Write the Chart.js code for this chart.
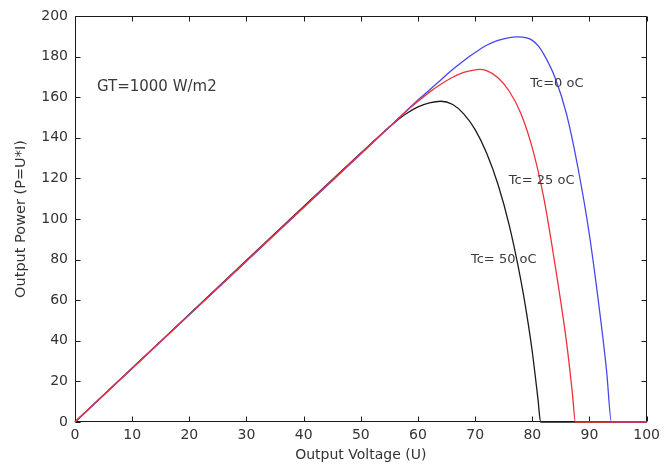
<!DOCTYPE html>
<html>
<head>
<meta charset="utf-8">
<script src="https://cdn.jsdelivr.net/npm/chart.js@4.4.1/dist/chart.umd.min.js"></script>
<style>
  html, body { margin: 0; padding: 0; background: #ffffff; }
  #wrap { width: 665px; height: 466px; }
</style>
</head>
<body>
<div id="wrap"><canvas id="pv"></canvas></div>
<script>
// P-V curves of a PV module at GT = 1000 W/m2 for three cell temperatures.
// Output voltage (U) and output power (P = U*I) sampled along each curve.
const voltage50 = [0, 10, 20, 30, 40, 50, 55, 57, 58, 60, 62, 64, 66, 68, 70, 72, 74, 76, 78, 79, 80, 81, 81.45, 100];
const power50   = [0, 26.6, 53.1, 79.7, 106.2, 132.5, 145.3, 150, 152, 155.2, 157.2, 158, 156.5, 151.8, 144, 132.5, 117, 96.5, 69.8, 53.5, 34.5, 11, 0, 0];

const voltage25 = [0, 10, 20, 30, 40, 50, 55, 58, 60, 62, 64, 66, 68, 70, 70.7, 72, 74, 76, 78, 80, 82, 84, 86, 87, 87.55, 100];
const power25   = [0, 26.5, 52.9, 79.4, 105.8, 132.3, 145.4, 153.2, 158, 162.5, 166.4, 169.7, 172.2, 173.5, 173.7, 173.1, 169.6, 162.8, 152, 135, 110.5, 77, 39, 14.5, 0, 0];

const voltage0  = [0, 10, 20, 30, 40, 50, 55, 60, 62, 64, 66, 68, 70, 72, 74, 76, 77.4, 79, 80, 81, 82, 84, 86, 88, 90, 92, 93, 93.85, 100];
const power0    = [0, 26.4, 52.8, 79.2, 105.6, 132, 145.3, 158.6, 163.5, 168.5, 173.5, 178, 182, 185.6, 188, 189.4, 189.7, 189.2, 188, 185.4, 181.2, 169.5, 151.5, 125, 92, 49.5, 25, 0, 0];

const xTicks = [0, 10, 20, 30, 40, 50, 60, 70, 80, 90, 100];
const yTicks = [0, 20, 40, 60, 80, 100, 120, 140, 160, 180, 200];

// Text placed inside the plot, anchored in data units (left edge, baseline)
const notes = [
  { text: 'GT=1000 W/m2', u: 3.83, p: 163.2, size: 15 },
  { text: 'Tc=0 oC',      u: 79.65, p: 165.2, size: 13 },
  { text: 'Tc= 25 oC',    u: 75.9,  p: 117.2, size: 13 },
  { text: 'Tc= 50 oC',    u: 69.27, p: 78.2,  size: 13 }
];

const FONT = "'DejaVu Sans', sans-serif";

function toPoints(xs, ys) {
  return xs.map((x, i) => ({ x: x, y: ys[i] }));
}

// Boxed frame with inward tick marks on all four sides (under the curves),
// then the notes on top of everything
const framePlugin = {
  id: 'frame',
  beforeDatasetsDraw(chart) {
    const ctx = chart.ctx;
    const a = chart.chartArea;
    const xs = chart.scales.x;
    const ys = chart.scales.y;
    const L = Math.round(a.left) + 0.5;
    const R = Math.round(a.right) - 0.5;
    const T = Math.round(a.top) + 0.5;
    const B = Math.round(a.bottom) - 0.5;
    const len = 5;
    ctx.save();
    ctx.strokeStyle = '#1a1a1a';
    ctx.lineWidth = 1;
    ctx.beginPath();
    ctx.rect(L, T, R - L, B - T);
    xTicks.forEach(v => {
      const px = Math.round(xs.getPixelForValue(v)) + 0.5;
      ctx.moveTo(px, B); ctx.lineTo(px, B - len);
      ctx.moveTo(px, T); ctx.lineTo(px, T + len);
    });
    yTicks.forEach(v => {
      const py = Math.round(ys.getPixelForValue(v)) + 0.5;
      ctx.moveTo(L, py); ctx.lineTo(L + len, py);
      ctx.moveTo(R, py); ctx.lineTo(R - len, py);
    });
    ctx.stroke();
    ctx.restore();
  },
  afterDatasetsDraw(chart) {
    const ctx = chart.ctx;
    const xs = chart.scales.x;
    const ys = chart.scales.y;
    ctx.save();
    ctx.fillStyle = '#3a3a3a';
    ctx.textAlign = 'left';
    ctx.textBaseline = 'alphabetic';
    notes.forEach(n => {
      ctx.font = n.size + 'px ' + FONT;
      ctx.fillText(n.text, xs.getPixelForValue(n.u), ys.getPixelForValue(n.p));
    });
    ctx.restore();
  }
};

const lineStyle = {
  showLine: true,
  fill: false,
  pointRadius: 0,
  borderWidth: 1.3,
  cubicInterpolationMode: 'monotone',
  clip: 3
};

new Chart(document.getElementById('pv'), {
  type: 'scatter',
  data: {
    datasets: [
      Object.assign({ label: 'Tc = 25 oC', data: toPoints(voltage25, power25), borderColor: '#f0303c', order: 0 }, lineStyle),
      Object.assign({ label: 'Tc = 0 oC',  data: toPoints(voltage0, power0),   borderColor: '#4646f0', order: 1 }, lineStyle),
      Object.assign({ label: 'Tc = 50 oC', data: toPoints(voltage50, power50), borderColor: '#1a1a1a', order: 2 }, lineStyle)
    ]
  },
  options: {
    responsive: true,
    maintainAspectRatio: false,
    animation: false,
    layout: { padding: { top: 16, right: 15, left: 0, bottom: 0 } },
    plugins: {
      legend: { display: false },
      tooltip: { enabled: false }
    },
    scales: {
      x: {
        type: 'linear',
        min: 0, max: 100,
        afterBuildTicks(scale) { scale.ticks = xTicks.map(v => ({ value: v })); },
        afterFit(scale) { scale.height = 44; },
        grid: { display: false, drawTicks: false },
        border: { display: false },
        ticks: { padding: 5, color: '#333333', font: { family: FONT, size: 14 }, maxRotation: 0 },
        title: {
          display: true,
          text: 'Output Voltage (U)',
          color: '#333333',
          font: { family: FONT, size: 14 },
          padding: { top: 0, bottom: 2 }
        }
      },
      y: {
        type: 'linear',
        min: 0, max: 200,
        afterBuildTicks(scale) { scale.ticks = yTicks.map(v => ({ value: v })); },
        afterFit(scale) { scale.width = 75; },
        grid: { display: false, drawTicks: false },
        border: { display: false },
        ticks: { padding: 7, color: '#333333', font: { family: FONT, size: 14 } },
        title: {
          display: true,
          text: 'Output Power (P=U*I)',
          color: '#333333',
          font: { family: FONT, size: 14.5 },
          padding: { top: 13, bottom: 0 }
        }
      }
    }
  },
  plugins: [framePlugin]
});
</script>
</body>
</html>
